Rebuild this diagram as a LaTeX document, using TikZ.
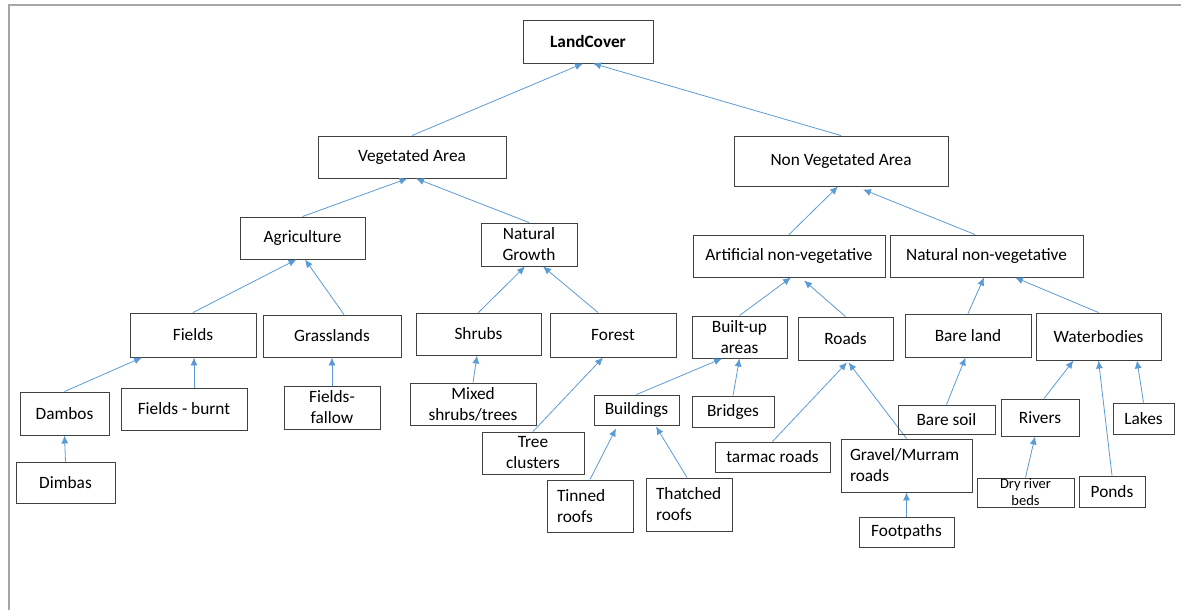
\documentclass[tikz,border=0pt]{standalone}
\usepackage{fontspec}
\setmainfont{Carlito}
\usepackage{xcolor}
\usetikzlibrary{arrows.meta}
\definecolor{linkblue}{HTML}{5B9BD5}
\definecolor{boxgray}{HTML}{404040}
\definecolor{framegray}{HTML}{A6A6A6}

\begin{document}
\begin{tikzpicture}[x=1pt,y=-1pt,
  box/.style={draw=boxgray,line width=0.95pt,inner sep=2pt,align=center,font=\fontsize{17.3}{21}\selectfont},
  lbox/.style={box,align=left,inner xsep=#1},
  link/.style={draw=linkblue,line width=0.8pt,-{Latex[length=8pt,width=7pt]}}]
\useasboundingbox (0,0) rectangle (1181,610);
\draw[framegray,line width=1.4pt] (9,610)--(9,5)--(1181,5);

%top levels
\node[box,minimum width=130pt,minimum height=43pt,font=\fontsize{17.3}{21}\selectfont\bfseries] (land) at (588,41.5) {LandCover};
\node[box,minimum width=188pt,minimum height=42pt] (veg) at (412,157) {Vegetated Area};
\node[box,minimum width=214pt,minimum height=50pt] (nonveg) at (841,161) {Non Vegetated Area};
\draw[link] (veg.north)--([xshift=-5pt]land.south);
\draw[link] (nonveg.north)--([xshift=5pt]land.south);

%vegetated area
\node[box,minimum width=125pt,minimum height=42pt] (agri) at (302.5,238) {Agriculture};
\node[box,minimum width=96pt,minimum height=43pt] (natgrowth) at (529,244.5) {Natural\\Growth};
\draw[link] (agri.north)--([xshift=-4.5pt]veg.south);
\draw[link] (natgrowth.north)--([xshift=4pt]veg.south);

\node[box,minimum width=126pt,minimum height=44pt] (fields) at (193,335) {Fields};
\node[box,minimum width=138pt,minimum height=42pt] (grass) at (332,336) {Grasslands};
\node[box,minimum width=125pt,minimum height=42pt] (shrubs) at (478.5,334) {Shrubs};
\node[box,minimum width=126pt,minimum height=44pt] (forest) at (613,335) {Forest};
\draw[link] (fields.north)--([xshift=-6pt]agri.south);
\draw[link] ([xshift=12pt]grass.north)--([xshift=2.5pt]agri.south);
\draw[link] (shrubs.north)--([xshift=-4pt]natgrowth.south);
\draw[link] ([xshift=-15pt]forest.north)--([xshift=14pt]natgrowth.south);

\node[box,minimum width=89pt,minimum height=43pt] (dambos) at (64.5,413.5) {Dambos};
\node[box,minimum width=126pt,minimum height=42pt] (burnt) at (184,409) {Fields - burnt};
\node[box,minimum width=96pt,minimum height=43pt] (fallow) at (332,407.5) {Fields-\\fallow};
\node[box,minimum width=126pt,minimum height=42pt] (mixed) at (473,404) {Mixed\\shrubs/trees};
\node[box,minimum width=102pt,minimum height=42pt] (treecl) at (533,453) {Tree\\clusters};
\node[box,minimum width=99pt,minimum height=41pt] (dimbas) at (65.5,482.5) {Dimbas};
\draw[link] (dambos.north)--([xshift=-51pt]fields.south);
\draw[link] ([xshift=10pt]burnt.north)--([xshift=1pt]fields.south);
\draw[link] (fallow.north)--(grass.south);
\draw[link] (mixed.north)--([xshift=-1.5pt]shrubs.south);
\draw[link] (treecl.north)--([xshift=-10pt]forest.south);
\draw[link] (dimbas.north)--(dambos.south);

%non vegetated area
\node[box,minimum width=192pt,minimum height=42pt] (artif) at (789,256) {Artificial non-vegetative};
\node[box,minimum width=193pt,minimum height=42pt] (natnon) at (986.5,256) {Natural non-vegetative};
\draw[link] (artif.north)--([xshift=-3pt]nonveg.south);
\draw[link] ([xshift=-11.5pt]natnon.north)--([xshift=22pt,yshift=-3pt]nonveg.south);

\node[box,minimum width=95pt,minimum height=42pt] (builtup) at (739.5,337) {Built-up\\areas};
\node[box,minimum width=95pt,minimum height=43pt] (roads) at (845.5,338.5) {Roads};
\node[box,minimum width=126pt,minimum height=43pt] (bareland) at (968,335.5) {Bare land};
\node[box,minimum width=125pt,minimum height=47pt] (water) at (1098.5,336.5) {Waterbodies};
\draw[link] (builtup.north)--([xshift=2pt]artif.south);
\draw[link] (roads.north)--([xshift=15pt,yshift=-3pt]artif.south);
\draw[link] (bareland.north)--([xshift=-2.5pt]natnon.south);
\draw[link] (water.north)--([xshift=28.5pt]natnon.south);

%built-up and roads
\node[box,minimum width=85pt,minimum height=30pt] (buildings) at (636.5,410) {Buildings};
\node[box,minimum width=82pt,minimum height=31pt] (bridges) at (733,411.5) {Bridges};
\node[lbox=10pt,text width=66pt,minimum height=52pt] (tinned) at (590,506) {Tinned\\roofs};
\node[lbox=10pt,text width=66pt,minimum height=53pt] (thatched) at (689,504.5) {Thatched\\roofs};
\node[box,minimum width=115pt,minimum height=30pt] (tarmac) at (772.5,457) {tarmac roads};
\node[lbox=9pt,text width=113pt,minimum height=53pt] (gravel) at (906.5,465.5) {Gravel/Murram\\roads};
\node[box,minimum width=95pt,minimum height=30pt] (footpaths) at (906.5,532) {Footpaths};
\draw[link] (buildings.north)--([xshift=-17.5pt]builtup.south);
\draw[link] (bridges.north)--(builtup.south);
\draw[link] (tinned.north)--([xshift=-20.5pt,yshift=-3pt]buildings.south);
\draw[link] ([xshift=-2pt]thatched.north)--([xshift=19.5pt,yshift=-1pt]buildings.south);
\draw[link] (tarmac.north)--([xshift=1.5pt,yshift=-2pt]roads.south);
\draw[link] (gravel.north)--([xshift=3pt,yshift=-2pt]roads.south);
\draw[link] (footpaths.north)--(gravel.south);

%bare land and waterbodies
\node[box,minimum width=97pt,minimum height=29pt] (baresoil) at (946.5,419.5) {Bare soil};
\node[box,minimum width=78pt,minimum height=37pt] (rivers) at (1040,417.5) {Rivers};
\node[box,minimum width=61pt,minimum height=31pt] (lakes) at (1143.5,418.5) {Lakes};
\node[box,minimum width=97pt,minimum height=29pt,inner sep=0pt,font=\fontsize{14.5}{17}\selectfont] (dry) at (1025.5,492.5) {Dry river\\beds};
\node[box,minimum width=66pt,minimum height=31pt] (ponds) at (1112,491.5) {Ponds};
\draw[link] (baresoil.north)--([xshift=-2.5pt]bareland.south);
\draw[link] ([xshift=4pt]rivers.north)--([xshift=-25pt]water.south);
\draw[link] (ponds.north)--(water.south);
\draw[link] (lakes.north)--([xshift=38.5pt]water.south);
\draw[link] (dry.north)--([xshift=-5pt]rivers.south);
\end{tikzpicture}
\end{document}
